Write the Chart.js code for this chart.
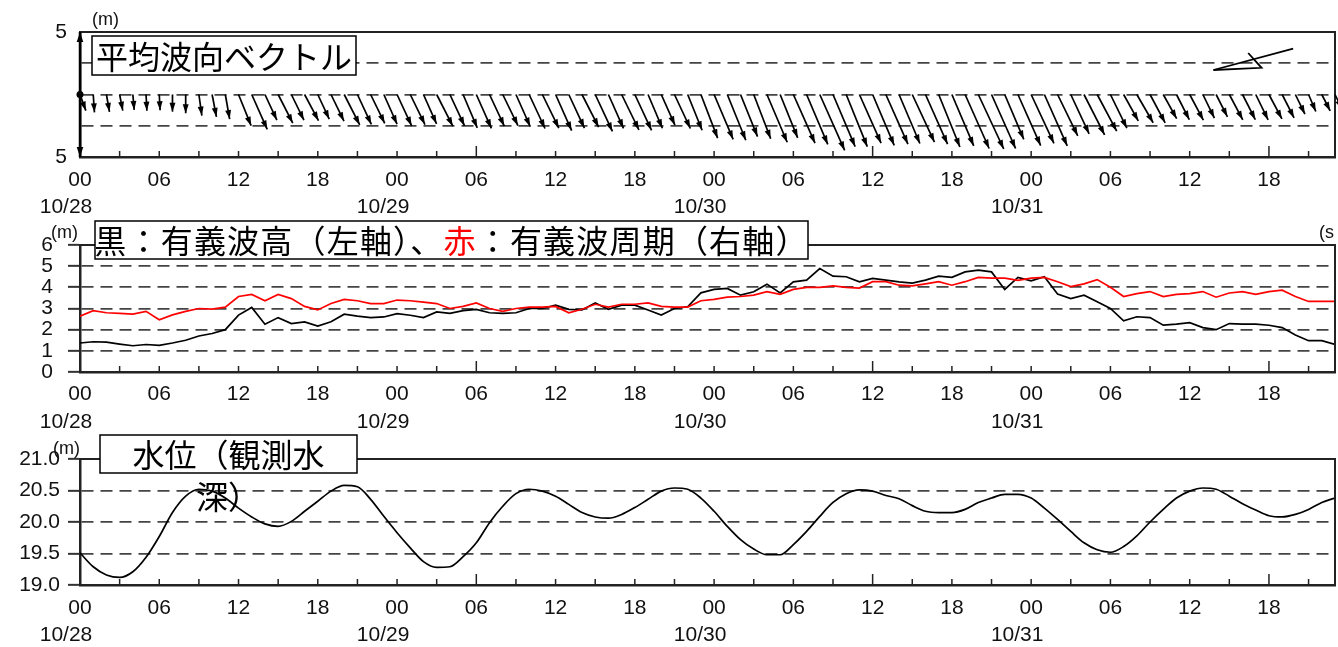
<!DOCTYPE html>
<html>
<head>
<meta charset="utf-8">
<script src="https://cdn.jsdelivr.net/npm/chart.js@4.4.1/dist/chart.umd.min.js"></script>
<style>
  html, body { margin: 0; padding: 0; background: #fff; }
  #wrap { position: relative; width: 1338px; height: 647px; overflow: hidden; }
  .panel { position: absolute; left: 0; width: 1338px; }
</style>
</head>
<body>
<div id="wrap">
  <div class="panel" style="top:0;height:222px"><canvas id="vec"></canvas></div>
  <div class="panel" style="top:212px;height:225px"><canvas id="wave"></canvas></div>
  <div class="panel" style="top:428px;height:219px"><canvas id="tide"></canvas></div>
</div>
<script>
// hourly observations, 10/28 00:00 .. 10/31 23:00
const hours = Array.from({ length: 96 }, (_, i) => i)
const hourTicks = ['00', '06', '12', '18']
const dateLabels = ['10/28', '10/29', '10/30', '10/31']

// 有義波高 (m)
const waveHeight = [
  1.37, 1.43, 1.41, 1.32, 1.24, 1.30, 1.26, 1.37, 1.50, 1.70, 1.82, 2.00,
  2.69, 3.05, 2.26, 2.57, 2.29, 2.37, 2.17, 2.37, 2.73, 2.64, 2.57, 2.60,
  2.76, 2.68, 2.57, 2.84, 2.77, 2.90, 2.96, 2.80, 2.77, 2.80, 3.00, 3.00,
  3.16, 2.96, 2.93, 3.26, 2.96, 3.16, 3.16, 2.93, 2.69, 3.00, 3.08, 3.74,
  3.90, 3.95, 3.63, 3.79, 4.15, 3.74, 4.26, 4.34, 4.89, 4.53, 4.50, 4.26,
  4.42, 4.34, 4.26, 4.20, 4.34, 4.53, 4.47, 4.73, 4.81, 4.73, 3.90, 4.47,
  4.31, 4.50, 3.68, 3.47, 3.63, 3.32, 3.00, 2.42, 2.61, 2.57, 2.21, 2.26,
  2.33, 2.10, 2.00, 2.29, 2.26, 2.26, 2.21, 2.10, 1.75, 1.48, 1.48, 1.30
]

// 有義波周期 (s)
const wavePeriod = [
  7.9, 8.7, 8.4, 8.3, 8.2, 8.6, 7.4, 8.1, 8.6, 9.0, 8.9, 9.2,
  10.7, 11.0, 10.1, 11.0, 10.4, 9.3, 8.8, 9.7, 10.3, 10.1, 9.7, 9.7,
  10.2, 10.1, 9.9, 9.7, 9.0, 9.3, 9.8, 9.0, 8.6, 9.0, 9.2, 9.2,
  9.3, 8.4, 8.9, 9.6, 9.2, 9.6, 9.6, 9.8, 9.3, 9.2, 9.2, 10.1,
  10.3, 10.6, 10.7, 10.9, 11.4, 11.0, 11.7, 12.0, 12.0, 12.2, 12.0, 11.9,
  12.8, 12.8, 12.3, 12.2, 12.5, 12.8, 12.3, 12.8, 13.4, 13.3, 13.3, 13.0,
  13.3, 13.4, 12.8, 12.1, 12.5, 13.1, 12.0, 10.7, 11.1, 11.4, 10.7, 11.0,
  11.1, 11.4, 10.6, 11.2, 11.4, 11.0, 11.4, 11.6, 10.7, 10.0, 10.0, 10.0
]

// 平均波向 (deg, direction waves come from, clockwise from north)
const waveDir = [
  340, 356, 350, 349, 355, 357, 357, 360, 360, 352, 349, 350,
  338, 336, 335, 333, 334, 332, 335, 334, 333, 335, 334, 336,
  335, 334, 336, 333, 335, 337, 336, 335, 334, 336, 335, 334,
  336, 335, 333, 335, 336, 334, 335, 337, 336, 335, 338, 339,
  337, 338, 338, 339, 337, 338, 336, 337, 336, 337, 338, 336,
  337, 336, 337, 335, 336, 338, 337, 336, 335, 336, 337, 336,
  335, 336, 334, 335, 333, 332, 334, 331, 330, 332, 331, 333,
  332, 334, 333, 332, 333, 334, 332, 333, 334, 337, 333, 334
]

// 水位（観測水深） (m)
const waterLevel = [
  19.51, 19.29, 19.16, 19.12, 19.21, 19.44, 19.77, 20.15, 20.41, 20.52, 20.49, 20.38,
  20.22, 20.08, 19.97, 19.93, 20.01, 20.17, 20.33, 20.49, 20.58, 20.56, 20.36, 20.09,
  19.83, 19.59, 19.37, 19.28, 19.29, 19.45, 19.67, 19.99, 20.25, 20.45, 20.52, 20.49,
  20.41, 20.28, 20.15, 20.08, 20.06, 20.12, 20.23, 20.36, 20.49, 20.54, 20.52, 20.38,
  20.17, 19.93, 19.72, 19.57, 19.48, 19.48, 19.64, 19.85, 20.09, 20.31, 20.45, 20.51,
  20.49, 20.42, 20.37, 20.26, 20.17, 20.15, 20.15, 20.20, 20.31, 20.38, 20.44, 20.44,
  20.38, 20.22, 20.04, 19.85, 19.67, 19.56, 19.52, 19.61, 19.78, 20.00, 20.20, 20.38,
  20.49, 20.54, 20.52, 20.41, 20.29, 20.19, 20.10, 20.08, 20.12, 20.20, 20.31, 20.38
]

// reference symbol in the vector panel (toward-direction, length in m)
const refVector = { hour: 85.8, level: 1.96, length: 6.6, toward: 75 }

const FONT = '"Liberation Sans", Arial, sans-serif'
const JP = '"Noto Sans CJK JP", "Noto Sans CJK SC", sans-serif'
const INK = '#111'
const GRID = '#444'
const DASH = [12, 7]

function xAxis (pad, height) {
  return {
    type: 'linear',
    min: 0,
    max: 95,
    grid: { display: false, drawTicks: false },
    border: { display: true, color: '#222', width: 2.5 },
    ticks: {
      stepSize: 6,
      includeBounds: false,
      autoSkip: false,
      maxRotation: 0,
      padding: pad,
      color: INK,
      font: { family: FONT, size: 21 },
      callback: v => hourTicks[(v % 24) / 6]
    },
    afterFit: s => { s.height = height }
  }
}

function yAxis (min, max, step, opts) {
  return {
    min,
    max,
    ticks: {
      stepSize: step,
      autoSkip: false,
      padding: opts.pad,
      color: INK,
      font: { family: FONT, size: 21 },
      callback: opts.label
    },
    grid: {
      color: c => (c.tick.value > min && c.tick.value < max) ? GRID : 'transparent',
      lineWidth: 1.7,
      drawTicks: opts.ticks,
      tickLength: 12,
      tickColor: '#333',
      tickWidth: 2
    },
    border: { display: true, color: '#222', width: 2.5, dash: DASH },
    afterFit: s => { s.width = 80 }
  }
}

// frame, inward time ticks and date row, shared by all panels
const framePlugin = {
  id: 'frame',
  afterDatasetsDraw (chart) {
    const { ctx, chartArea: a, scales: { x } } = chart
    ctx.save()
    ctx.strokeStyle = '#222'
    ctx.lineWidth = 2
    ctx.beginPath()
    ctx.moveTo(a.left, a.top)
    ctx.lineTo(a.right, a.top)
    ctx.lineTo(a.right, a.bottom)
    ctx.stroke()
    ctx.lineWidth = 1.5
    for (let h = 3; h <= 95; h += 3) {
      const px = x.getPixelForValue(h)
      const len = h % 30 === 0 ? 11 : 6
      ctx.beginPath()
      ctx.moveTo(px, a.bottom)
      ctx.lineTo(px, a.bottom - len)
      ctx.stroke()
    }
    ctx.fillStyle = INK
    ctx.font = '21px ' + FONT
    ctx.textAlign = 'center'
    ctx.textBaseline = 'middle'
    dateLabels.forEach((d, i) => ctx.fillText(d, x.getPixelForValue(i * 24) - 14, a.bottom + 50))
    ctx.restore()
  }
}

function labelPlugin (spec) {
  return {
    id: 'labels',
    afterDraw (chart) {
      const { ctx } = chart
      ctx.save()
      ctx.textBaseline = 'middle'
      ;(spec.units || []).forEach(u => {
        ctx.font = '18px ' + FONT
        ctx.fillStyle = INK
        ctx.textAlign = 'left'
        ctx.fillText(u.text, u.x, u.y)
      })
      const b = spec.box
      ctx.fillStyle = '#fff'
      ctx.fillRect(b.x, b.y, b.w, b.h)
      ctx.strokeStyle = '#000'
      ctx.lineWidth = 1.5
      ctx.strokeRect(b.x, b.y, b.w, b.h)
      ctx.font = '32px ' + JP
      ctx.letterSpacing = (spec.spacing || 0) + 'px'
      const total = spec.parts.reduce((s, p) => s + ctx.measureText(p.text).width, 0)
      let cx = b.x + (b.w - total) / 2
      ctx.textAlign = 'left'
      spec.parts.forEach(p => {
        ctx.fillStyle = p.color || '#000'
        ctx.fillText(p.text, cx, b.y + b.h / 2 + 1)
        cx += ctx.measureText(p.text).width
      })
      if (spec.extra) {
        ctx.fillStyle = '#000'
        ctx.textAlign = 'center'
        ctx.fillText(spec.extra.text, spec.extra.x, spec.extra.y)
      }
      ctx.restore()
    }
  }
}

function drawArrow (ctx, x0, y0, x1, y1, head) {
  const ang = Math.atan2(y1 - y0, x1 - x0)
  const c = Math.cos(ang)
  const s = Math.sin(ang)
  ctx.beginPath()
  ctx.moveTo(x0, y0)
  ctx.lineTo(x1, y1)
  ctx.stroke()
  ctx.beginPath()
  ctx.moveTo(x1, y1)
  ctx.lineTo(x1 - head * c + head * 0.33 * s, y1 - head * s - head * 0.33 * c)
  ctx.lineTo(x1 - head * c - head * 0.33 * s, y1 - head * s + head * 0.33 * c)
  ctx.closePath()
  ctx.fill()
}

const vectorPlugin = {
  id: 'vectors',
  afterDatasetsDraw (chart) {
    const { ctx, chartArea: a, scales: { x, y } } = chart
    const y0 = y.getPixelForValue(0)
    const perM = y0 - y.getPixelForValue(1)
    ctx.save()
    ctx.strokeStyle = '#000'
    ctx.fillStyle = '#000'
    ctx.lineWidth = 1.7
    chart.data.datasets[0].data.forEach(p => {
      const to = (p.dir + 180) * Math.PI / 180
      const L = p.h * perM
      const x0 = x.getPixelForValue(p.x)
      drawArrow(ctx, x0, y0, x0 + Math.sin(to) * L, y0 - Math.cos(to) * L, 9)
    })
    // north marker on the left axis
    ctx.lineWidth = 2.5
    drawArrow(ctx, a.left, y0, a.left, a.top, 10)
    drawArrow(ctx, a.left, y0, a.left, a.bottom, 10)
    ctx.beginPath()
    ctx.arc(a.left, y0, 3.5, 0, Math.PI * 2)
    ctx.fill()
    // reference symbol
    const rv = refVector
    const tx = x.getPixelForValue(rv.hour)
    const ty = y.getPixelForValue(rv.level)
    const t = rv.toward * Math.PI / 180
    const L = rv.length * perM
    const ux = Math.sin(t)
    const uy = -Math.cos(t)
    const nx = -uy
    const ny = ux
    ctx.lineWidth = 1.8
    ctx.beginPath()
    ctx.moveTo(tx, ty)
    ctx.lineTo(tx + ux * L, ty + uy * L)
    ctx.stroke()
    ctx.beginPath()
    ctx.moveTo(tx, ty)
    ctx.lineTo(tx + ux * 0.57 * L + nx * 0.125 * L, ty + uy * 0.57 * L + ny * 0.125 * L)
    ctx.lineTo(tx + ux * 0.46 * L - nx * 0.09 * L, ty + uy * 0.46 * L - ny * 0.09 * L)
    ctx.stroke()
    ctx.restore()
  }
}

const base = {
  responsive: true,
  maintainAspectRatio: false,
  animation: false,
  events: [],
  plugins: { legend: { display: false }, tooltip: { enabled: false } }
}

// 平均波向ベクトル
new Chart(document.getElementById('vec'), {
  type: 'scatter',
  data: {
    datasets: [{
      data: hours.map((h, i) => ({ x: h, y: 0, h: waveHeight[i], dir: waveDir[i] })),
      pointRadius: 0,
      showLine: false
    }]
  },
  options: {
    ...base,
    layout: { padding: { top: 32, right: 3, left: 0, bottom: 0 } },
    scales: {
      x: xAxis(11, 65),
      y: yAxis(-5, 5, 2.5, { pad: 13, ticks: false, label: v => (Math.abs(v) === 5 ? '5' : '') })
    }
  },
  plugins: [framePlugin, vectorPlugin, labelPlugin({
    units: [{ text: '(m)', x: 92, y: 20 }],
    box: { x: 92, y: 36, w: 264, h: 39 },
    parts: [{ text: '平均波向ベクトル' }]
  })]
})

// 有義波高 / 有義波周期
new Chart(document.getElementById('wave'), {
  type: 'line',
  data: {
    labels: hours,
    datasets: [
      {
        label: '有義波周期',
        data: hours.map((h, i) => ({ x: h, y: wavePeriod[i] })),
        yAxisID: 'y2',
        borderColor: '#ff0000',
        borderWidth: 1.7,
        pointRadius: 0,
        tension: 0,
        order: 0
      },
      {
        label: '有義波高',
        data: hours.map((h, i) => ({ x: h, y: waveHeight[i] })),
        yAxisID: 'y',
        borderColor: '#000',
        borderWidth: 1.7,
        pointRadius: 0,
        tension: 0,
        order: 1
      }
    ]
  },
  options: {
    ...base,
    layout: { padding: { top: 33, right: 3, left: 0, bottom: 0 } },
    scales: {
      x: xAxis(10, 65),
      y: yAxis(0, 6, 1, { pad: 15, ticks: true }),
      y2: { display: false, position: 'right', min: 0, max: 18 }
    }
  },
  plugins: [framePlugin, labelPlugin({
    units: [{ text: '(m)', x: 51, y: 21 }, { text: '(s', x: 1319, y: 21 }],
    box: { x: 95, y: 9, w: 713, h: 38 },
    spacing: 1.2,
    parts: [
      { text: '黒：有義波高（左軸）、' },
      { text: '赤', color: '#ff0000' },
      { text: '：有義波周期（右軸）' }
    ]
  })]
})

// 水位（観測水深）
new Chart(document.getElementById('tide'), {
  type: 'line',
  data: {
    labels: hours,
    datasets: [{
      label: '水位',
      data: hours.map((h, i) => ({ x: h, y: waterLevel[i] })),
      borderColor: '#000',
      borderWidth: 1.7,
      pointRadius: 0,
      cubicInterpolationMode: 'monotone'
    }]
  },
  options: {
    ...base,
    layout: { padding: { top: 31, right: 3, left: 0, bottom: 0 } },
    scales: {
      x: xAxis(11, 62),
      y: yAxis(19, 21, 0.5, { pad: 8, ticks: true, label: v => v.toFixed(1) })
    }
  },
  plugins: [framePlugin, labelPlugin({
    units: [{ text: '(m)', x: 53, y: 21 }],
    box: { x: 100, y: 7, w: 257, h: 38 },
    parts: [{ text: '水位（観測水' }],
    extra: { text: '深）', x: 228, y: 69 }
  })]
})
</script>
</body>
</html>
